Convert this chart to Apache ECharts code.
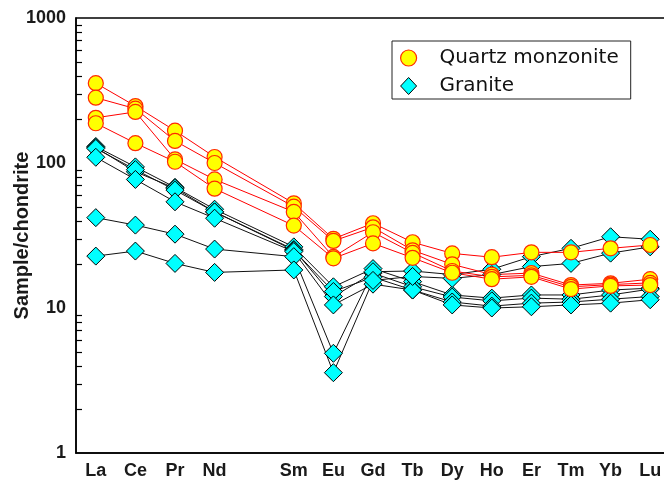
<!DOCTYPE html>
<html>
<head>
<meta charset="utf-8">
<script src="https://cdn.jsdelivr.net/npm/echarts@6/dist/echarts.min.js"></script>
<style>
  html, body { margin: 0; padding: 0; background: #fff; }
  #chart { width: 664px; height: 485px; }
</style>
</head>
<body>
<div id="chart"></div>
<script>
// Chondrite-normalised REE patterns (Pm slot left empty)
const elements = ['La', 'Ce', 'Pr', 'Nd', '', 'Sm', 'Eu', 'Gd', 'Tb', 'Dy', 'Ho', 'Er', 'Tm', 'Yb', 'Lu'];

// Quartz monzonite samples
const qm1 = [355, 247, 167, 110, null, 52.7, 30, 38.4, 28.4, 23.8, 22.4, 24.2, 24.2, 25.8, 27.2];
const qm2 = [282, 237, 142, 100, null, 50, 29, 36, 25, 20, 17, 17.4, 14.4, 14.8, 15.8];
const qm3 = [205, 225, 106, 77, null, 46, 22.5, 33.3, 24, 18, 16.4, 16.8, 14, 14.5, 14.9];
const qm4 = [188, 137, 102, 66.5, null, 37, 22, 27.9, 22.2, 17.5, 15.8, 16.4, 13.5, 14.2, 14.4];

// Granite samples
const gr1 = [130, 94, 68, 48, null, 26.4, 14, 18.7, 15.2, 12.3, 11.7, 12.3, 12.3, 13.3, 13.7];
const gr2 = [128, 87, 67, 46, null, 25.3, 12, 17.4, 14, 11.9, 11.2, 11.7, 11.5, 12.3, 13.5];
const gr3 = [126, 90, 65, 46, null, 25, 13, 16.3, 13.3, 11, 10.3, 10.8, 11, 11.5, 12];
const gr4 = [109.5, 77, 54, 41.6, null, 24.5, 10.5, 14.6, 13.3, 10.5, 10, 10.2, 10.5, 10.8, 11.4];
const gr5 = [42, 37.3, 32.3, 25.5, null, 22.6, 4.87, 17.8, 18, 17, 18.5, 22.6, 25.8, 31, 29.8];
const gr6 = [22.8, 24.7, 20.3, 17.6, null, 18.3, 3.58, 15.5, 16.5, 16, 17, 19.3, 20.3, 23.9, 26.4];

// Log axis minor ticks (2..9 in every decade)
const minorTicks = [2, 3, 4, 5, 6, 7, 8, 9, 20, 30, 40, 50, 60, 70, 80, 90, 200, 300, 400, 500, 600, 700, 800, 900];

const FONT = 'Liberation Sans, Arial, Helvetica, sans-serif';
const LEGEND_FONT = 'DejaVu Sans, sans-serif';
const INK = '#1a1a1a';
const GRID_LEFT = 76, GRID_TOP = 18, GRID_W = 594, GRID_H = 435;

const qmStyle = {
  name: 'Quartz monzonite',
  symbol: 'circle',
  symbolSize: 15,
  lineStyle: { color: '#ff0000', width: 1 },
  itemStyle: { color: '#ffff00', borderColor: '#ff2a00', borderWidth: 1.2 }
};
const grStyle = {
  name: 'Granite',
  symbol: 'diamond',
  symbolSize: 18,
  lineStyle: { color: '#111', width: 1 },
  itemStyle: { color: '#00ffff', borderColor: '#000', borderWidth: 1 }
};

function makeSeries(values, style) {
  return Object.assign({
    type: 'line',
    data: values,
    connectNulls: true,
    showAllSymbol: true,
    silent: true,
    animation: false
  }, style);
}

const series = [gr1, gr2, gr3, gr4, gr5, gr6].map(v => makeSeries(v, grStyle))
  .concat([qm1, qm2, qm3, qm4].map(v => makeSeries(v, qmStyle)));

const chart = echarts.init(document.getElementById('chart'), null, { renderer: 'canvas' });
chart.setOption({
  animation: false,
  backgroundColor: '#fff',
  grid: {
    left: GRID_LEFT, top: GRID_TOP, width: GRID_W, height: GRID_H,
    containLabel: false, outerBoundsMode: 'none',
    show: true, borderColor: '#000', borderWidth: 1.5, backgroundColor: 'transparent'
  },
  legend: {
    left: 392, top: 41,
    orient: 'vertical',
    padding: [7, 12, 3, 8],
    itemGap: 8,
    itemWidth: 16,
    itemHeight: 17,
    borderColor: '#222',
    borderWidth: 1,
    selectedMode: false,
    textStyle: { fontFamily: LEGEND_FONT, fontSize: 20, lineHeight: 18, color: '#111', padding: [0, 0, 0, 18] },
    data: [
      { name: 'Quartz monzonite', icon: 'circle',
        itemStyle: { color: '#ffff00', borderColor: '#ff2a00', borderWidth: 1.2 } },
      { name: 'Granite', icon: 'diamond',
        itemStyle: { color: '#00ffff', borderColor: '#000', borderWidth: 1 } }
    ]
  },
  xAxis: {
    type: 'category',
    data: elements,
    boundaryGap: true,
    axisLine: { lineStyle: { color: '#000', width: 1.5 } },
    axisTick: { inside: true, alignWithLabel: true, interval: 0, length: 7, lineStyle: { color: '#000', width: 1.2 } },
    axisLabel: { interval: 0, margin: 9, fontFamily: FONT, fontWeight: 'bold', fontSize: 18, color: INK },
    splitLine: { show: false }
  },
  yAxis: {
    type: 'log', logBase: 10, min: 1, max: 1000, position: 'left',
    axisLine: { show: true, lineStyle: { color: '#000', width: 1.5 } },
    axisTick: { inside: true, length: 8, lineStyle: { color: '#000', width: 1.2 } },
    axisLabel: { margin: 10, formatter: v => String(v), fontFamily: FONT, fontWeight: 'bold', fontSize: 18, color: INK },
    splitLine: { show: false },
    minorTick: { show: false }
  },
  series: series
});

// Minor ticks at 2..9 of each decade, placed through the y axis scale
const extras = minorTicks.map(v => {
  const y = Math.round(chart.convertToPixel({ yAxisIndex: 0 }, v)) + 0.5;
  return {
    type: 'line', silent: true, z: 10,
    shape: { x1: GRID_LEFT, y1: y, x2: GRID_LEFT + 6, y2: y },
    style: { stroke: '#000', lineWidth: 1.2 }
  };
});

// Vertical y axis title
extras.push({
  type: 'text', silent: true, z: 10,
  x: 22, y: GRID_TOP + GRID_H / 2,
  rotation: Math.PI / 2,
  style: {
    text: 'Sample/chondrite',
    font: 'bold 20px ' + FONT,
    fill: INK,
    align: 'center', verticalAlign: 'middle',
    textAlign: 'center', textVerticalAlign: 'middle'
  }
});
chart.setOption({ graphic: extras });
</script>
</body>
</html>
